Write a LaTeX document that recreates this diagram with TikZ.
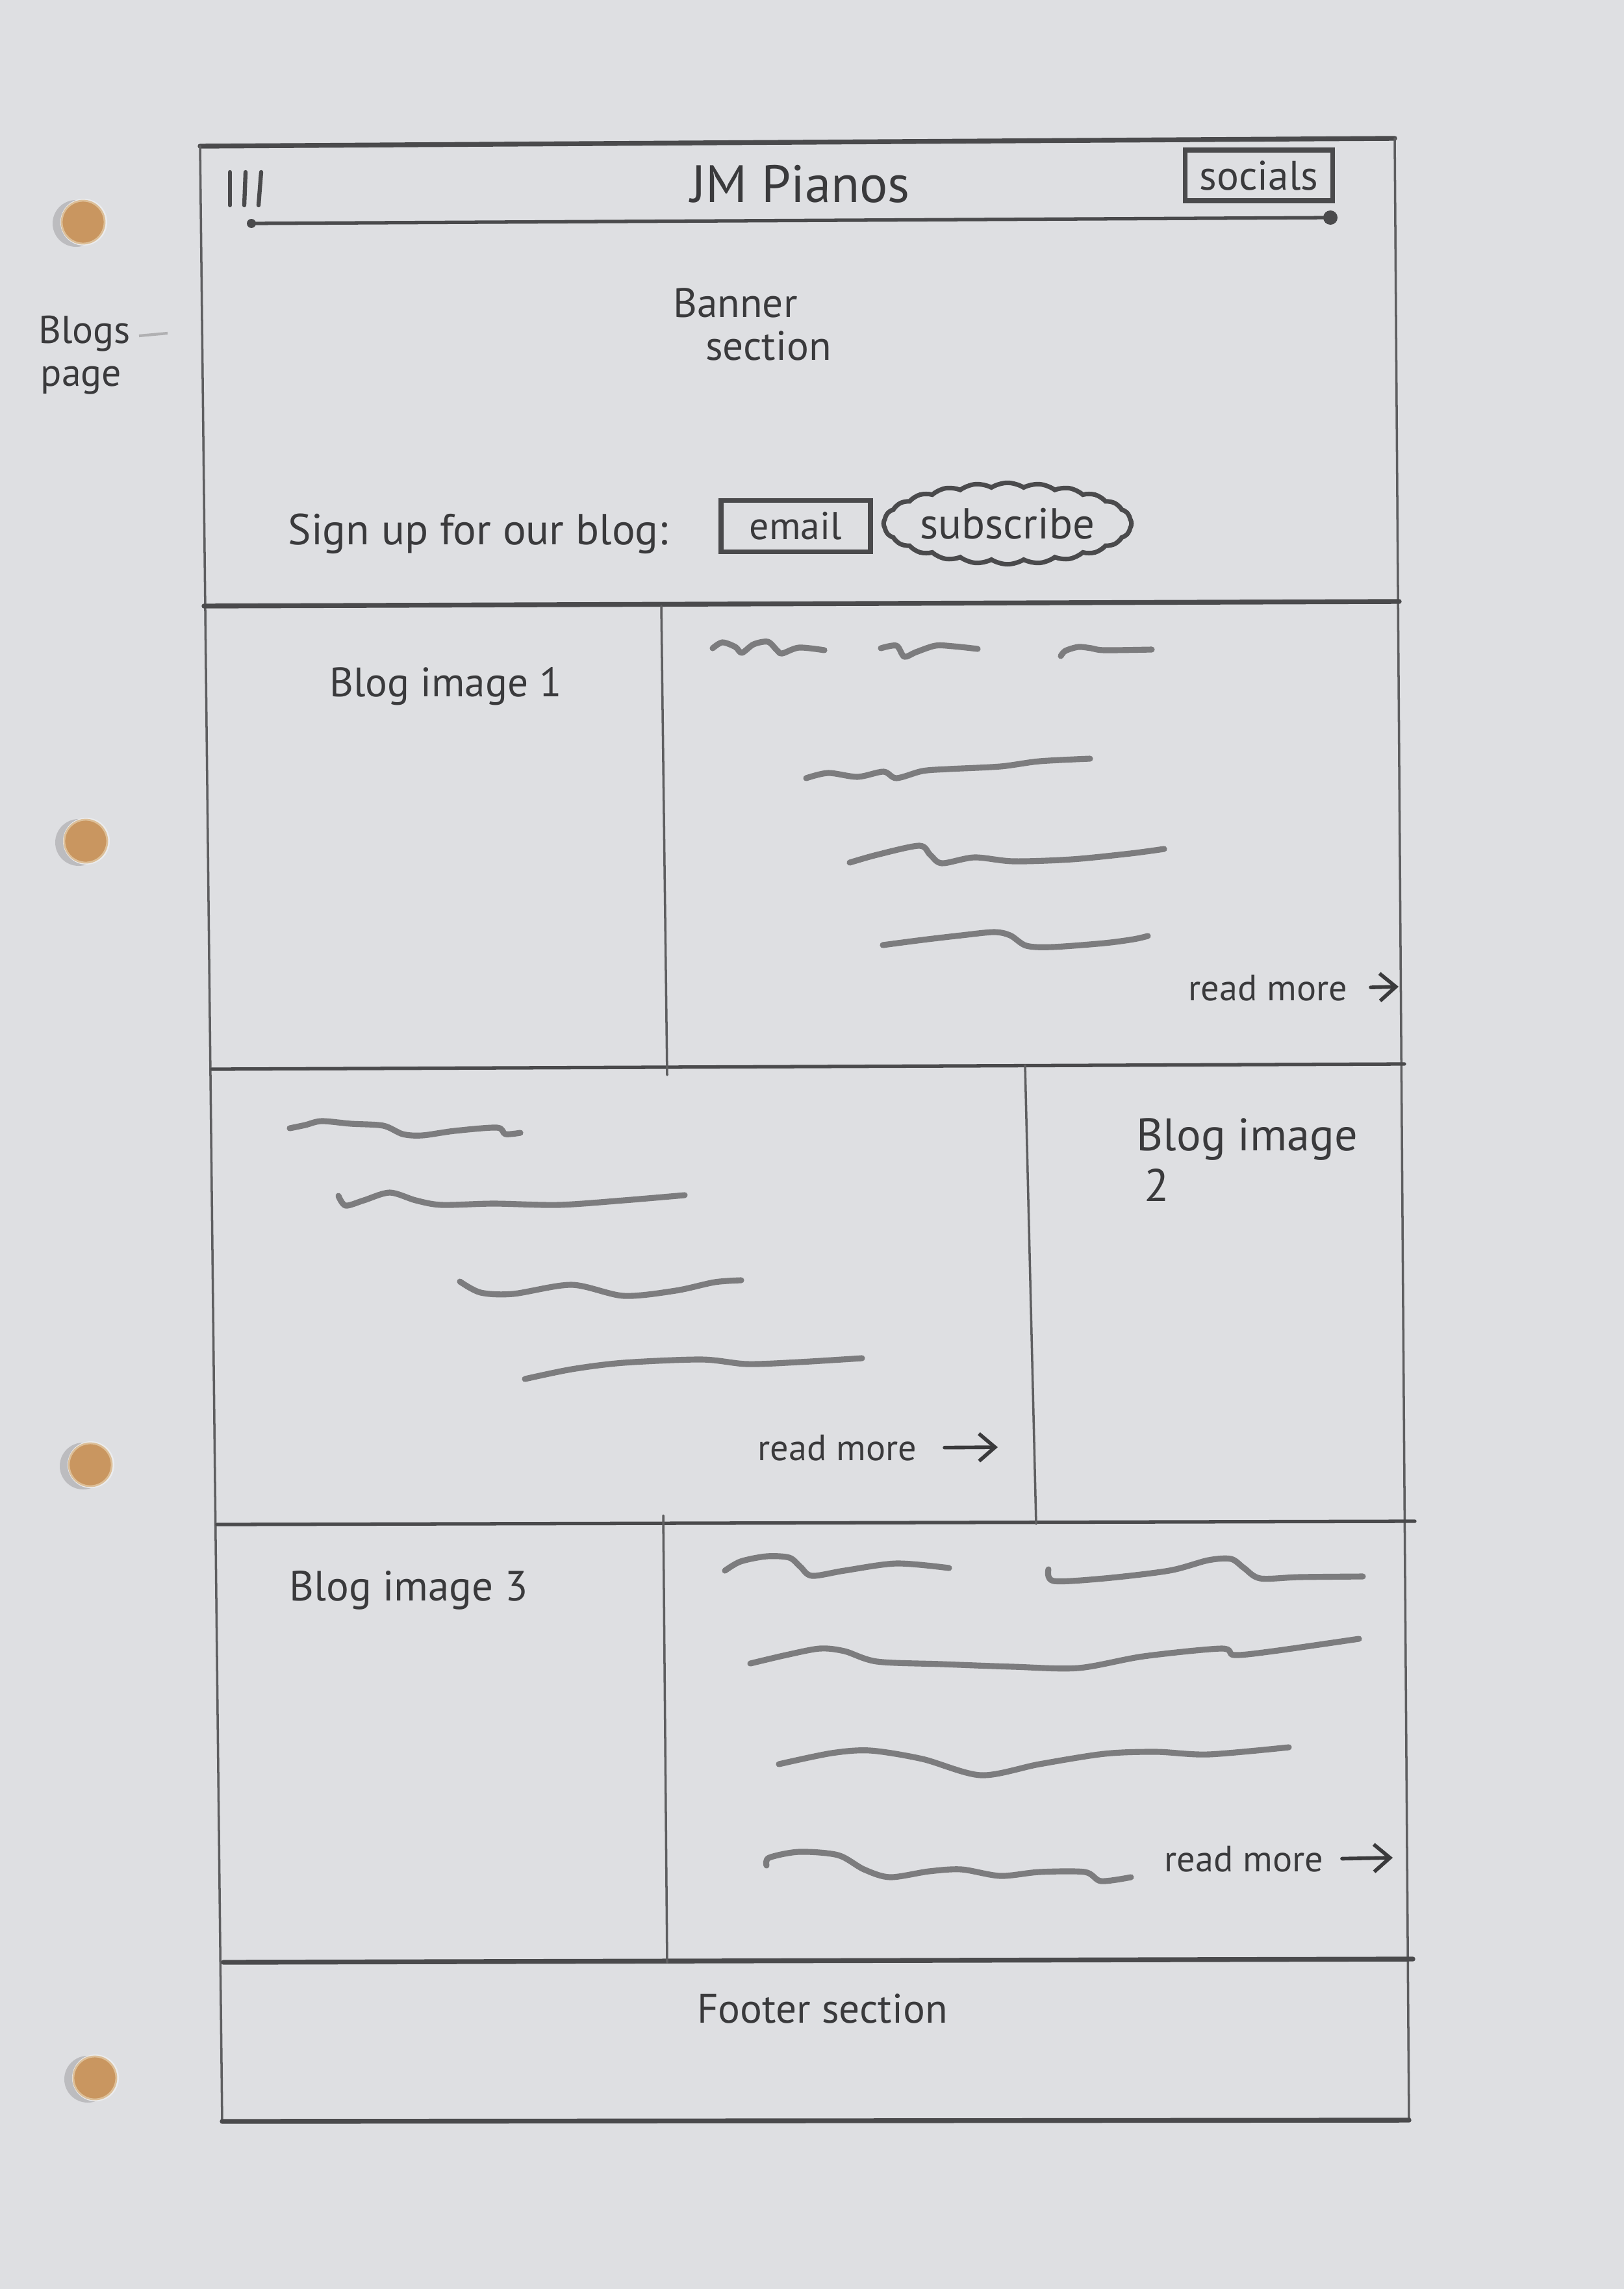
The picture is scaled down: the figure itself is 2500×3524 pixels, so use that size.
\documentclass[tikz,border=0pt]{standalone}
\usepackage{fontspec}
\setmainfont{PT Sans}
\usetikzlibrary{shapes.symbols,arrows.meta}

\definecolor{paper}{HTML}{DEDFE2}
\definecolor{pencil}{HTML}{5E5E60}
\definecolor{lead}{HTML}{4A4A4C}
\definecolor{smudge}{HTML}{7C7C7E}
\definecolor{ink}{HTML}{3A3A3C}
\definecolor{cork}{HTML}{C99660}
\definecolor{corkrim}{HTML}{DDBF98}
\definecolor{holeshade}{HTML}{BCBCBF}

\newcommand\penfont[1]{\fontsize{#1pt}{#1pt}\selectfont}

\tikzset{
  thin edge/.style={draw=pencil, line width=1pt, line cap=round},
  mid edge/.style={draw=lead, line width=1.5pt, line cap=round},
  heavy edge/.style={draw=lead, line width=2.1pt, line cap=round},
  scribble/.style={draw=smudge, line width=2.6pt, line cap=round, line join=round},
  penlabel/.style={text=ink, inner sep=0pt},
  penbox/.style={draw=lead, line width=2.2pt, text=ink, inner sep=0pt, rectangle},
  pencloud/.style={draw=lead, line width=2pt, text=ink, cloud, cloud puffs=24,
    cloud puff arc=65, aspect=3.4, inner sep=0pt},
  penarrow/.style={draw=ink, line width=1.6pt, line cap=round,
    -{Straight Barb[length=7pt,width=12pt,line width=1.6pt]}},
  hole/.style={fill=cork, draw=corkrim, line width=0.8pt},
}

\begin{document}
\begin{tikzpicture}[x=0.01cm, y=-0.01cm]
% sheet
\fill[paper] (0,0) rectangle (2500,3524);
\useasboundingbox (0,0) rectangle (2500,3524);

% punched holes
\foreach \hx/\hy in {124/342, 128/1295, 135/2255, 142/3199} {
  \fill[holeshade] (\hx-7,\hy+2) circle (36);
  \fill[paper!60!white] (\hx+5,\hy) circle (36);
  \path[hole] (\hx+4,\hy) circle (33);
}

% side note
\node[penlabel, font=\penfont{17}] (notea) at (130,514) {Blogs};
\node[penlabel, font=\penfont{17}] (noteb) at (125,586) {page};
\coordinate (markA) at (214,517);
\coordinate (markB) at (258,513);
\draw[draw=smudge!60, line width=1.2pt] (markA) -- (markB);

% page frame
\coordinate (TL) at (308,225);
\coordinate (TR) at (2147,213);
\coordinate (BR) at (2169,3264);
\coordinate (BL) at (342,3266);
\draw[heavy edge] (TL) -- (TR);
\draw[thin edge] (TR) -- (BR);
\draw[thin edge] (TL) -- (BL);
\draw[heavy edge] (BL) -- (BR);

% navigation bar
\foreach \mx/\tilt in {354/0, 378/2, 402/4}
  \draw[draw=lead, line width=1.8pt, line cap=round] (\mx,265) -- (\mx-\tilt,316);
\node[penlabel, font=\penfont{23}] (brand) at (1232,283) {JM Pianos};
\node[penbox, font=\penfont{18}, minimum width=2.27cm, minimum height=0.78cm] (socials) at (1938,270) {socials};
\coordinate (navL) at (387,344);
\coordinate (navR) at (2048,335);
\draw[mid edge] (navL) -- (navR);
\fill[lead] (navL) circle (7);
\fill[lead] (navR) circle (11);

% banner
\node[penlabel, font=\penfont{18}] (bannerA) at (1132,466) {Banner};
\node[penlabel, font=\penfont{18}] (bannerB) at (1183,532) {section};
\node[penlabel, font=\penfont{19}] (signup) at (736,822) {Sign up for our blog:};
\node[penbox, font=\penfont{17}, minimum width=2.3cm, minimum height=0.79cm] (email) at (1225,810) {email};
\node[pencloud, font=\penfont{19}, minimum width=3.6cm, minimum height=1.06cm] (subscribe) at (1551,806) {subscribe};

% section dividers
\coordinate (d1L) at (314,933);   \coordinate (d1R) at (2154,926);
\coordinate (d2L) at (326,1646);  \coordinate (d2R) at (2162,1638);
\coordinate (d3L) at (334,2347);  \coordinate (d3R) at (2178,2342);
\coordinate (d4L) at (344,3021);  \coordinate (d4R) at (2175,3016);
\draw[heavy edge] (d1L) -- (d1R);
\draw[mid edge] (d2L) -- (d2R);
\draw[mid edge] (d3L) -- (d3R);
\draw[heavy edge] (d4L) -- (d4R);

\coordinate (c1T) at (1018,933);  \coordinate (c1B) at (1027,1655);
\coordinate (c2T) at (1578,1640); \coordinate (c2B) at (1595,2346);
\coordinate (c3T) at (1021,2333); \coordinate (c3B) at (1027,3021);
\draw[thin edge] (c1T) -- (c1B);
\draw[thin edge] (c2T) -- (c2B);
\draw[thin edge] (c3T) -- (c3B);

% blog 1
\node[penlabel, font=\penfont{18}] (img1) at (686,1057) {Blog image 1};
\draw[scribble] plot[smooth, tension=0.5] coordinates {(1097,998) (1112,989) (1132,996) (1142,1005) (1160,992) (1182,988) (1196,1001) (1204,1006) (1230,997) (1269,1001)};
\draw[scribble] plot[smooth, tension=0.5] coordinates {(1356,998) (1380,994) (1392,1011) (1410,1004) (1440,994) (1468,995) (1505,999)};
\draw[scribble] plot[smooth, tension=0.5] coordinates {(1633,1010) (1640,1002) (1660,996) (1680,998) (1700,1001) (1773,1000)};
\draw[scribble] plot[smooth, tension=0.5] coordinates {(1241,1198) (1275,1190) (1320,1196) (1360,1188) (1380,1198) (1420,1187) (1460,1184) (1540,1180) (1600,1172) (1678,1168)};
\draw[scribble] plot[smooth, tension=0.5] coordinates {(1308,1328) (1350,1316) (1415,1302) (1432,1316) (1450,1329) (1500,1320) (1560,1326) (1650,1323) (1740,1314) (1792,1307)};
\draw[scribble] plot[smooth, tension=0.5] coordinates {(1359,1455) (1420,1447) (1480,1440) (1530,1435) (1555,1440) (1580,1456) (1620,1458) (1700,1452) (1745,1446) (1767,1441)};
\node[penlabel, font=\penfont{16}, anchor=west] (more1) at (1829,1521) {read more};
\coordinate (more1tip) at (2153,1519);
\draw[penarrow, shorten <=10pt] (more1.east) -- (more1tip);

% blog 2
\draw[scribble] plot[smooth, tension=0.5] coordinates {(446,1737) (470,1732) (495,1726) (540,1730) (590,1733) (620,1746) (650,1748) (700,1741) (765,1736) (778,1746) (801,1744)};
\draw[scribble] plot[smooth, tension=0.5] coordinates {(521,1841) (532,1856) (560,1848) (600,1836) (640,1848) (680,1855) (760,1853) (860,1855) (960,1848) (1054,1840)};
\draw[scribble] plot[smooth, tension=0.5] coordinates {(708,1973) (740,1990) (790,1992) (880,1978) (960,1995) (1040,1987) (1100,1974) (1141,1971)};
\draw[scribble] plot[smooth, tension=0.5] coordinates {(808,2123) (880,2108) (960,2098) (1080,2093) (1150,2100) (1230,2097) (1327,2091)};
\node[penlabel, font=\penfont{16}, anchor=west] (more2) at (1166,2229) {read more};
\coordinate (more2tip) at (1536,2228);
\draw[penarrow, shorten <=12pt] (more2.east) -- (more2tip);
\node[penlabel, font=\penfont{20}] (img2) at (1920,1754) {Blog image};
\node[penlabel, font=\penfont{20}] (img2n) at (1781,1824) {2};

% blog 3
\node[penlabel, font=\penfont{18.5}] (img3) at (629,2448) {Blog image 3};
\draw[scribble] plot[smooth, tension=0.5] coordinates {(1116,2418) (1140,2404) (1180,2396) (1215,2398) (1232,2412) (1250,2426) (1300,2418) (1380,2407) (1461,2414)};
\draw[scribble] plot[smooth, tension=0.5] coordinates {(1614,2416) (1622,2434) (1700,2430) (1800,2418) (1860,2402) (1895,2400) (1915,2414) (1940,2430) (2000,2428) (2098,2427)};
\draw[scribble] plot[smooth, tension=0.5] coordinates {(1155,2561) (1210,2548) (1262,2538) (1300,2542) (1350,2558) (1450,2562) (1560,2566) (1660,2568) (1760,2550) (1880,2538) (1900,2548) (1960,2542) (2092,2523)};
\draw[scribble] plot[smooth, tension=0.5] coordinates {(1199,2716) (1280,2699) (1340,2695) (1420,2708) (1510,2733) (1600,2716) (1700,2700) (1780,2697) (1860,2701) (1984,2690)};
\draw[scribble] plot[smooth, tension=0.5] coordinates {(1180,2872) (1184,2860) (1230,2851) (1290,2856) (1330,2878) (1370,2890) (1430,2881) (1480,2878) (1540,2888) (1600,2882) (1670,2882) (1695,2896) (1741,2890)};
\node[penlabel, font=\penfont{16}, anchor=west] (more3) at (1792,2862) {read more};
\coordinate (more3tip) at (2144,2860);
\draw[penarrow, shorten <=8pt] (more3.east) -- (more3tip);

% footer
\node[penlabel, font=\penfont{18}] (footer) at (1266,3092) {Footer section};
\end{tikzpicture}
\end{document}
